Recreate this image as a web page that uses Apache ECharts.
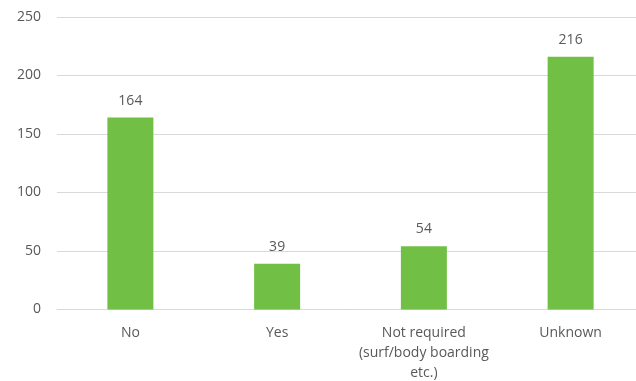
<!DOCTYPE html>
<html>
<head>
<meta charset="utf-8">
<script src="https://cdn.jsdelivr.net/npm/echarts@6/dist/echarts.min.js"></script>
<style>
  html, body { margin: 0; padding: 0; background: #fff; }
  #chart { width: 636px; height: 381px; }
</style>
</head>
<body>
<div id="chart"></div>
<script>
// Categories and counts
const categories = ['No', 'Yes', 'Not required\n(surf/body boarding\netc.)', 'Unknown'];
const counts = [164, 39, 54, 216];
const yTicks = { min: 0, max: 250, interval: 50 };

const textColor = '#595959';
const fontFamily = '"Open Sans", "Liberation Sans", sans-serif';

const chart = echarts.init(document.getElementById('chart'));
chart.setOption({
  animation: false,
  grid: {
    left: 57, top: 17, width: 587, height: 292.5,
    containLabel: false, outerBoundsMode: 'none'
  },
  xAxis: {
    type: 'category',
    data: categories,
    axisLine: { show: true, lineStyle: { color: '#d9d9d9', width: 1 } },
    axisTick: { show: false },
    axisLabel: {
      color: textColor, fontFamily: fontFamily, fontSize: 14,
      margin: 14, lineHeight: 20, interval: 0
    }
  },
  yAxis: {
    type: 'value',
    min: yTicks.min, max: yTicks.max, interval: yTicks.interval,
    axisLine: { show: false },
    axisTick: { show: false },
    splitLine: { lineStyle: { color: '#d9d9d9', width: 1 } },
    axisLabel: { color: textColor, fontFamily: fontFamily, fontSize: 14, margin: 16 }
  },
  series: [{
    type: 'bar',
    data: counts,
    barWidth: 46,
    itemStyle: { color: '#71BF44' },
    label: {
      show: true, position: 'top', distance: 10,
      color: textColor, fontFamily: fontFamily, fontSize: 14
    }
  }]
});
</script>
</body>
</html>
